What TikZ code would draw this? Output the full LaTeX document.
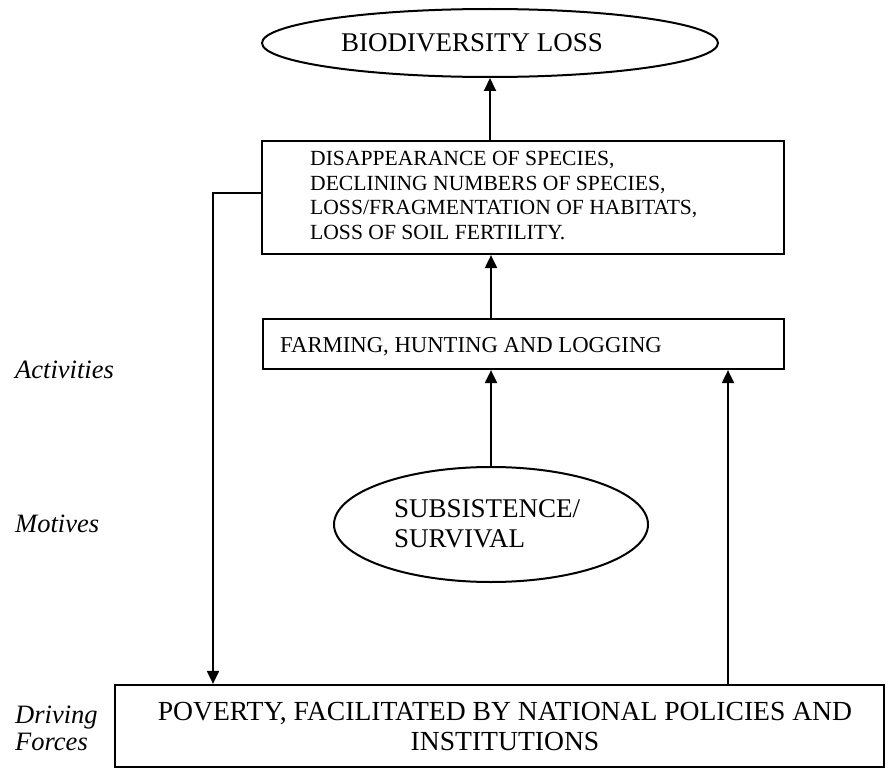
\documentclass[tikz,border=0pt]{standalone}
\usepackage{fontspec}
\setmainfont{Liberation Serif}
\usetikzlibrary{shapes.geometric,arrows.meta}
\begin{document}
\begin{tikzpicture}[x=1pt,y=-1pt,
  box/.style={draw, line width=2.2pt, rectangle, inner sep=0pt},
  oval/.style={draw, line width=2pt, ellipse, inner sep=0pt},
  arr/.style={line width=2pt, -{Triangle[width=12pt,length=13pt]}},
  lbl/.style={anchor=base west, inner sep=0pt, font=\fontsize{26.5}{30}\selectfont\itshape},
  txt/.style={inner sep=0pt}]
\useasboundingbox (0,0) rectangle (887,768);
% shapes
\node[oval, minimum width=456pt, minimum height=68pt] (ell1) at (490,43) {};
\node[txt, anchor=base, font=\fontsize{27}{30}\selectfont] (t1) at (472,52) {BIODIVERSITY LOSS};

\node[box, minimum width=522pt, minimum height=113pt] (box1) at (523,197.5) {};
\node[txt, anchor=north west, align=left, font=\fontsize{21.6}{24.7}\selectfont] (t2) at (310,151)
  {DISAPPEARANCE OF SPECIES,\\DECLINING NUMBERS OF SPECIES,\\LOSS/FRAGMENTATION OF HABITATS,\\LOSS OF SOIL FERTILITY.};

\node[box, minimum width=521pt, minimum height=50pt] (box2) at (523.5,344) {};
\node[txt, anchor=base west, font=\fontsize{22.7}{26}\selectfont] (t3) at (280,352) {FARMING, HUNTING AND LOGGING};

\node[oval, minimum width=314pt, minimum height=115pt] (ell2) at (491,524.5) {};
\node[txt, anchor=north west, align=left, font=\fontsize{27}{30}\selectfont] (t4) at (394,499.1) {SUBSISTENCE/\\SURVIVAL};

\node[box, minimum width=769pt, minimum height=82pt] (bot) at (499.5,726) {};
\node[txt, anchor=north, align=center, font=\fontsize{27.6}{30}\selectfont] (t5) at (505,701.7)
  {POVERTY, FACILITATED BY NATIONAL POLICIES AND\\INSTITUTIONS};

% side labels
\node[lbl] (l1) at (15,378) {Activities};
\node[lbl] (l2) at (15,532) {Motives};
\node[lbl] (l3) at (15,723) {Driving};
\node[lbl] (l4) at (15,750) {Forces};

% connectors
\coordinate (lx) at (213,0);
\coordinate (rx) at (728,0);
\draw[arr] (ell1.south |- box1.north) -- (ell1.south);
\draw[arr] (ell2.north |- box2.north) -- (ell2.north |- box1.south);
\draw[arr] (ell2.north) -- (ell2.north |- box2.south);
\draw[arr] ([yshift=5pt]box1.west) -| (lx |- bot.north);
\draw[arr] (rx |- bot.north) -- (rx |- box2.south);
\end{tikzpicture}
\end{document}
